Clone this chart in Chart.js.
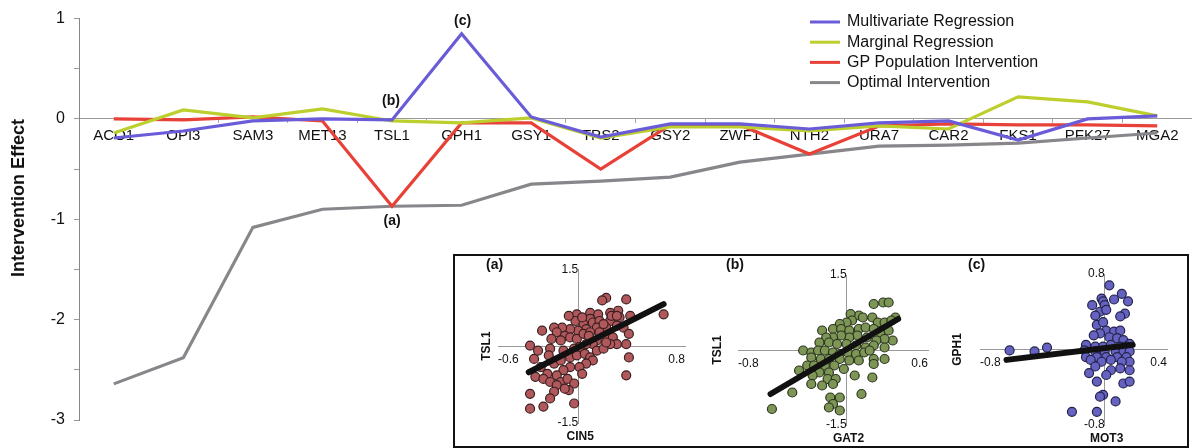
<!DOCTYPE html>
<html>
<head>
<meta charset="utf-8">
<script src="https://cdn.jsdelivr.net/npm/chart.js@4.4.0/dist/chart.umd.min.js"></script>
<style>
  body { margin: 0; background: #fff; }
  #wrap { position: relative; width: 1192px; height: 448px; overflow: hidden; }
  #main { position: absolute; left: 0; top: 0; }
  #inset { position: absolute; left: 453px; top: 254px; width: 736px; height: 194px;
           border: 2px solid #111; box-sizing: border-box; background: #fff; }
  .panel { position: absolute; top: 258px; }
</style>
</head>
<body>
<div id="wrap">
  <canvas id="main" width="1192" height="448"></canvas>
  <div id="inset"></div>
  <canvas id="pa" class="panel" width="240" height="188" style="left:458px"></canvas>
  <canvas id="pb" class="panel" width="240" height="188" style="left:700px"></canvas>
  <canvas id="pc" class="panel" width="244" height="188" style="left:942px"></canvas>
</div>
<script>
// main chart data
var genes = ['ACO1', 'OPI3', 'SAM3', 'MET13', 'TSL1', 'GPH1', 'GSY1', 'TPS2', 'GSY2', 'ZWF1', 'NTH2', 'URA7', 'CAR2', 'FKS1', 'PFK27', 'MGA2'];
var multivariate = [-0.19, -0.12, -0.02, 0.00, -0.01, 0.85, 0.02, -0.18, -0.05, -0.05, -0.10, -0.04, -0.02, -0.21, 0.00, 0.03];
var marginal     = [-0.14, 0.09, 0.01, 0.10, -0.02, -0.04, 0.01, -0.19, -0.08, -0.08, -0.12, -0.07, -0.10, 0.22, 0.17, 0.03];
var gpPopulation = [0.00, -0.01, 0.02, -0.02, -0.87, -0.04, -0.04, -0.50, -0.06, -0.06, -0.35, -0.07, -0.05, -0.06, -0.06, -0.07];
var optimal      = [-2.64, -2.38, -1.08, -0.90, -0.87, -0.86, -0.65, -0.62, -0.58, -0.43, -0.35, -0.27, -0.26, -0.24, -0.19, -0.14];
var yRange = [-3, 1];

// inset scatter data
var scatterA = [[0.21,0.94],[0.18,0.89],[0.36,0.91],[0.64,0.62],[0.30,0.69],[0.24,0.65],[-0.01,0.62],[0.09,0.65],[0.15,0.62],[0.09,0.53],
  [-0.02,0.49],[0.04,0.43],[0.11,0.46],[0.16,0.49],[0.24,0.49],[0.31,0.56],[0.39,0.59],[0.29,0.40],[0.21,0.36],[0.14,0.36],
  [0.06,0.33],[0.00,0.30],[-0.06,0.33],[-0.12,0.36],[-0.18,0.36],[-0.27,0.30],[-0.16,0.27],[-0.10,0.20],[-0.13,0.11],[-0.20,0.14],
  [-0.06,0.17],[-0.01,0.14],[0.04,0.24],[0.09,0.27],[0.16,0.27],[0.21,0.20],[0.26,0.17],[0.34,0.36],[0.38,0.24],[0.29,0.04],
  [0.24,0.04],[0.14,0.11],[0.11,0.04],[0.06,0.04],[0.01,-0.02],[-0.03,-0.05],[-0.11,-0.09],[-0.21,-0.05],[-0.22,-0.18],[-0.33,-0.25],
  [-0.36,0.01],[-0.30,-0.09],[-0.18,-0.34],[-0.13,-0.28],[-0.06,-0.22],[-0.01,-0.18],[0.05,-0.15],[0.09,-0.22],[0.14,-0.09],[0.19,-0.05],
  [0.21,0.07],[0.36,0.04],[0.38,-0.22],[0.36,-0.57],[0.11,-0.28],[0.06,-0.34],[0.01,-0.41],[-0.06,-0.41],[-0.11,-0.47],[-0.16,-0.57],
  [-0.23,-0.54],[-0.28,-0.41],[-0.32,-0.60],[-0.26,-0.64],[-0.21,-0.70],[-0.13,-0.70],[-0.08,-0.64],[0.03,-0.54],[-0.03,-0.73],[-0.07,-0.86],
  [-0.16,-0.76],[-0.18,-0.89],[-0.21,-1.02],[-0.36,-0.93],[-0.36,-1.22],[-0.26,-1.18],[-0.03,-1.12],[-0.10,-0.83],[0.08,0.20],[0.19,0.43],
  [0.25,0.59],[0.03,0.56],[-0.07,0.59],[0.29,0.59]];
var scatterB = [[0.20,0.92],[0.27,0.95],[0.31,0.95],[0.09,0.69],[0.03,0.72],[0.12,0.65],[0.19,0.65],[0.23,0.55],[0.28,0.55],[0.36,0.65],
  [0.33,0.59],[0.04,0.59],[0.00,0.55],[-0.05,0.52],[-0.18,0.39],[-0.10,0.42],[-0.04,0.42],[0.02,0.39],[0.09,0.42],[0.14,0.45],
  [0.20,0.42],[0.25,0.35],[0.31,0.39],[0.34,0.19],[0.28,0.22],[0.22,0.19],[0.15,0.25],[0.08,0.29],[0.02,0.25],[-0.04,0.29],
  [-0.10,0.25],[-0.15,0.25],[-0.20,0.15],[-0.13,0.15],[-0.07,0.12],[0.00,0.12],[0.07,0.09],[0.14,0.05],[0.20,0.09],[0.28,0.05],
  [-0.32,-0.01],[-0.26,-0.05],[-0.21,-0.01],[-0.16,-0.01],[-0.10,-0.05],[-0.05,-0.08],[0.01,-0.05],[0.07,-0.08],[0.13,-0.05],[0.20,-0.18],
  [0.28,-0.18],[-0.26,-0.15],[-0.19,-0.18],[-0.13,-0.18],[-0.05,-0.18],[0.02,-0.21],[0.09,-0.21],[0.17,-0.01],[-0.35,-0.41],[-0.29,-0.31],
  [-0.24,-0.31],[-0.16,-0.31],[-0.09,-0.31],[-0.02,-0.38],[-0.20,-0.45],[-0.13,-0.45],[-0.25,-0.51],[-0.14,-0.58],[-0.08,-0.58],[-0.10,-0.68],
  [-0.40,-0.85],[-0.12,-0.95],[-0.10,-1.08],[-0.13,-1.15],[-0.05,-1.21],[-0.05,-0.95],[0.11,-0.88],[0.06,-0.51],[0.19,-0.55],[0.20,-0.28],
  [-0.55,-1.18],[-0.18,-0.71],[-0.26,-0.68]];
var scatterC = [[0.03,0.68],[0.11,0.59],[0.06,0.53],[-0.02,0.54],[0.15,0.51],[-0.08,0.47],[-0.01,0.51],[0.00,0.47],[-0.03,0.40],[0.01,0.42],
  [0.13,0.38],[0.10,0.35],[-0.06,0.36],[-0.05,0.26],[-0.01,0.29],[0.01,0.20],[0.06,0.19],[0.10,0.20],[-0.03,0.17],[-0.07,0.15],
  [0.03,0.13],[0.08,0.12],[0.12,0.10],[0.16,0.06],[-0.12,0.05],[-0.06,0.03],[-0.01,0.03],[0.04,0.05],[0.10,0.03],[0.14,0.03],
  [-0.37,0.02],[-0.45,-0.02],[-0.61,-0.01],[-0.13,-0.01],[-0.06,-0.02],[0.00,-0.02],[0.07,-0.02],[0.12,-0.02],[0.16,-0.02],[-0.12,-0.08],
  [-0.05,-0.08],[0.01,-0.08],[0.08,-0.08],[0.14,-0.08],[0.16,-0.13],[0.11,-0.13],[0.04,-0.11],[-0.02,-0.13],[-0.09,-0.11],[-0.06,-0.18],
  [0.04,-0.22],[0.10,-0.20],[0.16,-0.22],[0.01,-0.27],[-0.10,-0.25],[-0.05,-0.34],[0.12,-0.36],[0.16,-0.34],[-0.01,-0.48],[-0.03,-0.50],
  [0.07,-0.55],[-0.21,-0.66],[-0.05,-0.66]];
var fitA = [[-0.37, -0.51], [0.64, 0.82]];
var fitB = [[-0.56, -0.88], [0.38, 0.62]];
var fitC = [[-0.63, -0.11], [0.18, 0.05]];
var rangeAx = [-0.6, 0.8], rangeAy = [-1.5, 1.5];
var rangeBx = [-0.8, 0.6], rangeBy = [-1.5, 1.5];
var rangeCx = [-0.8, 0.4], rangeCy = [-0.8, 0.8];

var FONT = '"Liberation Sans", Arial, sans-serif';
Chart.defaults.font.family = FONT;

var cornerLegend = {
  id: 'cornerLegend',
  afterDraw: function(chart) {
    var ctx = chart.ctx;
    ctx.save();
    ctx.font = '16px ' + FONT;
    ctx.textBaseline = 'middle';
    chart.data.datasets.forEach(function(ds, i) {
      var y = 22 + i * 20.2;
      ctx.strokeStyle = ds.borderColor;
      ctx.lineWidth = 3;
      ctx.beginPath(); ctx.moveTo(810, y); ctx.lineTo(840, y); ctx.stroke();
      ctx.fillStyle = '#111';
      ctx.fillText(ds.label, 847, y);
    });
    // y axis title
    ctx.translate(19, 198);
    ctx.rotate(-Math.PI / 2);
    ctx.font = 'bold 18px ' + FONT;
    ctx.textAlign = 'center';
    ctx.fillText('Intervention Effect', 0, 0);
    ctx.restore();
  }
};

var pointTags = {
  id: 'pointTags',
  afterDatasetsDraw: function(chart) {
    var xs = chart.scales.x, ys = chart.scales.y, ctx = chart.ctx;
    var iT = genes.indexOf('TSL1'), iG = genes.indexOf('GPH1');
    ctx.save();
    ctx.font = 'bold 14px ' + FONT;
    ctx.fillStyle = '#111';
    ctx.textAlign = 'center';
    ctx.textBaseline = 'middle';
    ctx.fillText('(a)', xs.getPixelForValue(iT), ys.getPixelForValue(gpPopulation[iT]) + 15);
    ctx.fillText('(b)', xs.getPixelForValue(iT) - 1, ys.getPixelForValue(multivariate[iT]) - 19);
    ctx.fillText('(c)', xs.getPixelForValue(iG) + 1, ys.getPixelForValue(multivariate[iG]) - 13);
    ctx.restore();
  }
};

function line(label, data, color) {
  return { label: label, data: data, borderColor: color, backgroundColor: color,
           borderWidth: 3.2, pointRadius: 0, tension: 0, fill: false };
}

new Chart(document.getElementById('main').getContext('2d'), {
  type: 'line',
  data: {
    labels: genes,
    datasets: [
      line('Multivariate Regression', multivariate, '#6a5cd8'),
      line('Marginal Regression', marginal, '#bccf2c'),
      line('GP Population Intervention', gpPopulation, '#e84238'),
      line('Optimal Intervention', optimal, '#88868a')
    ]
  },
  options: {
    responsive: false,
    animation: false,
    layout: { padding: { left: 0, right: 0, top: 16, bottom: 28 } },
    plugins: { legend: { display: false }, tooltip: { enabled: false } },
    scales: {
      x: {
        type: 'category',
        offset: true,
        position: { y: 0 },
        grid: { drawOnChartArea: false, offset: true, tickLength: 4, color: '#aaa' },
        border: { color: '#9a9a9a', width: 1 },
        ticks: { font: { size: 15 }, color: '#111', padding: 4, autoSkip: false, maxRotation: 0 }
      },
      y: {
        min: yRange[0], max: yRange[1],
        position: 'left',
        afterFit: function(s) { s.width = 79; },
        ticks: {
          stepSize: 0.5, font: { size: 16 }, color: '#111', padding: 9,
          callback: function(v) { return Number.isInteger(v) ? String(v) : ''; }
        },
        grid: { drawOnChartArea: false, tickLength: 5, color: '#999' },
        border: { color: '#888', width: 1 }
      }
    }
  },
  plugins: [cornerLegend, pointTags]
});

function makePanel(id, pts, fit, xr, yr, fill, edge, tag, xTitle, yTitle, pad, yTitleGap) {
  var panelText = {
    id: 'panelText',
    afterDraw: function(chart) {
      var ctx = chart.ctx, a = chart.chartArea;
      var x0 = chart.scales.x.getPixelForValue(0), y0 = chart.scales.y.getPixelForValue(0);
      ctx.save();
      ctx.fillStyle = '#111';
      ctx.textBaseline = 'middle';
      ctx.textAlign = 'left';
      ctx.font = 'bold 14px ' + FONT;
      ctx.fillText(tag, a.left - 12, 7);
      ctx.textAlign = 'center';
      ctx.font = 'bold 12px ' + FONT;
      ctx.fillText(xTitle, x0 + 2, a.bottom + 14);
      ctx.translate(a.left - yTitleGap, y0);
      ctx.rotate(-Math.PI / 2);
      ctx.fillText(yTitle, 0, 0);
      ctx.restore();
    }
  };
  function endsOnly(s) { s.ticks = [{ value: s.min }, { value: s.max }]; }
  var tickFont = { size: 12 };
  new Chart(document.getElementById(id).getContext('2d'), {
    type: 'scatter',
    data: {
      datasets: [
        { data: fit.map(function(p) { return { x: p[0], y: p[1] }; }), showLine: true,
          borderColor: '#111', borderWidth: 6, pointRadius: 0, borderCapStyle: 'round' },
        { data: pts.map(function(p) { return { x: p[0], y: p[1] }; }),
          pointRadius: 4.5, pointBackgroundColor: fill, pointBorderColor: edge, pointBorderWidth: 1.2 }
      ]
    },
    options: {
      responsive: false,
      animation: false,
      layout: { padding: pad },
      plugins: { legend: { display: false }, tooltip: { enabled: false } },
      scales: {
        x: { type: 'linear', min: xr[0], max: xr[1], position: { y: 0 }, afterBuildTicks: endsOnly,
             ticks: { align: 'inner', font: tickFont, color: '#111', padding: 6,
                      callback: function(v) { return String(v); } },
             grid: { display: false, drawTicks: false }, border: { color: '#999', width: 1 } },
        y: { type: 'linear', min: yr[0], max: yr[1], position: { x: 0 }, afterBuildTicks: endsOnly,
             ticks: { font: tickFont, color: '#111', padding: 4,
                      callback: function(v) { return String(v); } },
             grid: { display: false, drawTicks: false }, border: { color: '#999', width: 1 } }
      }
    },
    plugins: [panelText]
  });
}

makePanel('pa', scatterA, fitA, rangeAx, rangeAy, '#b0585c', '#3a2020', '(a)', 'CIN5', 'TSL1',
  { left: 40, right: 13, top: 10, bottom: 23 }, 11);
makePanel('pb', scatterB, fitB, rangeBx, rangeBy, '#7d9655', '#2c3520', '(b)', 'GAT2', 'TSL1',
  { left: 38, right: 12, top: 17, bottom: 21 }, 20);
makePanel('pc', scatterC, fitC, rangeCx, rangeCy, '#6662c2', '#23234a', '(c)', 'MOT3', 'GPH1',
  { left: 38, right: 19, top: 16, bottom: 21 }, 22);
</script>
</body>
</html>
